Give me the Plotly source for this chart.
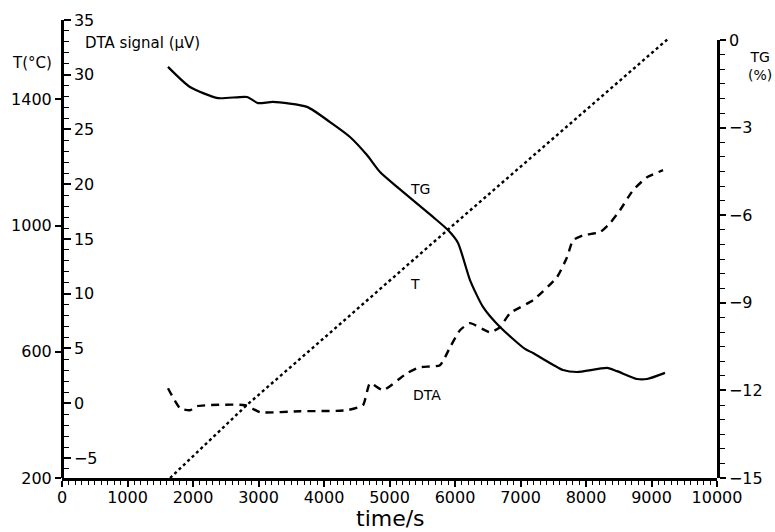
import plotly.graph_objects as go

# Heating programme: furnace temperature (°C) against time (s)
t_time = [1650, 2820, 4140, 5890, 9240]
t_temp = [200, 431, 669, 987, 1590]

# Thermogravimetric mass change (%)
tg_time = [1618, 1954, 2382, 2824, 2992, 3221, 3740, 4092, 4397, 4656, 4855,
           5115, 5664, 5893, 6046, 6229, 6427, 6687, 7069, 7191, 7649, 7863,
           8321, 8473, 8779, 8931, 9206]
tg_mass = [-0.92, -1.61, -1.99, -1.95, -2.16, -2.12, -2.29, -2.81, -3.32, -3.94,
           -4.52, -5.03, -6.06, -6.51, -6.95, -8.22, -9.14, -9.83, -10.58, -10.72,
           -11.30, -11.37, -11.23, -11.34, -11.61, -11.61, -11.40]

# Differential thermal analysis signal (µV)
dta_time = [1618, 1802, 1954, 2061, 2794, 3023, 3634, 4351, 4595, 4702, 4901,
            5267, 5466, 5771, 5924, 6076, 6229, 6534, 6687, 6840, 7191, 7557,
            7710, 7802, 7954, 8214, 8366, 8519, 8718, 8931, 9176]
dta_signal = [1.37, -0.46, -0.64, -0.27, -0.18, -0.82, -0.73, -0.64, -0.18, 1.83,
              1.19, 2.74, 3.29, 3.47, 5.11, 6.67, 7.31, 6.48, 6.94, 8.22, 9.41,
              11.51, 13.33, 14.89, 15.34, 15.62, 16.44, 17.63, 19.45, 20.64, 21.28]

x_ticks = list(range(0, 10001, 1000))
dta_ticks = list(range(-5, 36, 5))
temp_ticks = [200, 600, 1000, 1400]
tg_ticks = [0, -3, -6, -9, -12, -15]

FONT = "DejaVu Sans"
INK = "black"

fig = go.Figure()

fig.add_trace(go.Scatter(x=t_time, y=t_temp, yaxis="y2", mode="lines",
                         line=dict(color=INK, width=2.4, dash="dot"),
                         showlegend=False, hoverinfo="skip"))
fig.add_trace(go.Scatter(x=tg_time, y=tg_mass, yaxis="y3", mode="lines",
                         line=dict(color=INK, width=2.2, shape="spline", smoothing=0.6),
                         showlegend=False, hoverinfo="skip"))
fig.add_trace(go.Scatter(x=dta_time, y=dta_signal, yaxis="y", mode="lines",
                         line=dict(color=INK, width=2.4, dash="8px,6px",
                                   shape="spline", smoothing=0.5),
                         showlegend=False, hoverinfo="skip"))

tick_font = dict(family=FONT, size=16, color=INK)

fig.update_layout(
    width=775, height=532,
    margin=dict(l=62, r=58, t=20, b=54),
    paper_bgcolor="white", plot_bgcolor="rgba(0,0,0,0)",
    xaxis=dict(range=[0, 10000], tickvals=x_ticks, tickformat="d", ticks="outside",
               ticklen=6, tickwidth=1.5, tickcolor=INK, showline=True, linecolor=INK,
               linewidth=2.5, showgrid=False, zeroline=False, ticklabelstandoff=-3,
               tickfont=dict(family=FONT, size=16, color=INK),
               minor=dict(dtick=100, ticks="outside", ticklen=4, tickwidth=1.2,
                          tickcolor=INK, showgrid=False),
               anchor="y"),
    # DTA scale: drawn on the left spine, with ticks and labels facing the plot
    yaxis=dict(range=[-6.83, 35], tickvals=dta_ticks, ticks="outside", ticklen=7,
               tickwidth=1.5, tickcolor=INK, showline=True, linecolor=INK,
               linewidth=2.5, showgrid=False, zeroline=False, tickfont=tick_font,
               minor=dict(dtick=1, ticks="outside", ticklen=5, tickwidth=1.2,
                          tickcolor=INK, showgrid=False),
               anchor="free", position=0, side="right"),
    yaxis2=dict(range=[200, 1652], tickvals=temp_ticks, ticks="outside", ticklen=6,
                tickwidth=1.5, tickcolor=INK, showline=False, showgrid=False,
                zeroline=False, tickfont=tick_font, overlaying="y", side="left",
                anchor="x"),
    yaxis3=dict(range=[-15, 0], domain=[0, 0.9563], tickvals=tg_ticks,
                ticktext=["0", "\u22123", "\u22126", "\u22129", "\u221212", "\u221215"],
                ticks="outside", ticklen=6, tickwidth=1.5, tickcolor=INK,
                showline=True, linecolor=INK, linewidth=2.5, showgrid=False,
                zeroline=False, tickfont=tick_font, side="right", anchor="x",
                minor=dict(dtick=0.5, ticks="outside", ticklen=5, tickwidth=1.2,
                           tickcolor=INK, showgrid=False)),
)

annots = [
    dict(text="T(°C)", x=-0.0458, y=0.906, xref="paper", yref="paper",
         xanchor="center", yanchor="middle", font=dict(family=FONT, size=15, color=INK)),
    dict(text="DTA signal (µV)", x=0.032, y=0.950, xref="paper", yref="paper",
         xanchor="left", yanchor="middle", font=dict(family=FONT, size=15, color=INK)),
    dict(text="TG<br>(%)", x=1.0656, y=0.90, xref="paper", yref="paper",
         xanchor="center", yanchor="middle", font=dict(family=FONT, size=14, color=INK)),
    dict(text="time/s", x=0.502, y=-0.0895, xref="paper", yref="paper",
         xanchor="center", yanchor="middle", borderpad=0,
         font=dict(family=FONT, size=22, color=INK)),
    dict(text="TG", x=5466, y=19.6, xref="x", yref="y", xanchor="center",
         yanchor="middle", font=dict(family=FONT, size=14, color=INK)),
    dict(text="T", x=5390, y=10.9, xref="x", yref="y", xanchor="center",
         yanchor="middle", font=dict(family=FONT, size=14, color=INK)),
    dict(text="DTA", x=5570, y=0.73, xref="x", yref="y", xanchor="center",
         yanchor="middle", font=dict(family=FONT, size=14, color=INK)),
]
for a in annots:
    fig.add_annotation(showarrow=False, **a)

fig.write_html("out.html")
